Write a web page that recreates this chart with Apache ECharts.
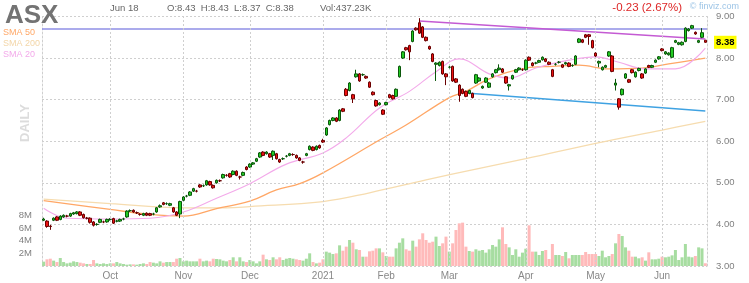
<!DOCTYPE html>
<html><head><meta charset="utf-8">
<script src="https://cdn.jsdelivr.net/npm/echarts@6/dist/echarts.min.js"></script>
<style>html,body{margin:0;padding:0;background:#fff}#c{width:749px;height:283px}</style>
</head><body><div id="c"></div>
<script>
const ticker = 'ASX';
const firstDate = '2020-09-02';
const lastDate = '2021-06-18';
const holidays = ['2020-09-07','2020-11-26','2020-12-25','2021-01-01','2021-01-18','2021-02-15','2021-04-02','2021-05-31'];

const opens = [
4.10,4.08,3.96,4.10,4.18,4.12,4.18,4.20,4.20,4.25,
4.26,4.30,4.24,4.15,4.15,4.06,4.00,4.05,4.06,4.06,
4.12,4.14,4.08,4.08,4.13,4.18,4.33,4.34,4.28,4.24,
4.22,4.27,4.26,4.25,4.30,4.42,4.52,4.50,4.46,4.40,
4.30,4.25,4.58,4.68,4.70,4.80,4.80,4.95,4.93,4.95,
5.03,4.94,5.00,5.05,5.12,5.18,5.22,5.20,5.28,5.14,
5.18,5.38,5.38,5.45,5.52,5.62,5.74,5.70,5.70,5.66,
5.70,5.56,5.58,5.64,5.66,5.68,5.66,5.60,5.50,5.66,
5.80,5.86,5.80,5.90,6.02,6.15,6.40,6.50,6.56,6.50,
6.78,7.25,7.22,7.12,7.55,7.62,7.60,7.56,7.42,7.18,
6.98,6.88,6.75,6.88,7.12,7.10,7.08,7.55,8.00,8.25,
8.30,8.40,8.72,8.85,8.75,8.50,8.28,8.10,7.85,7.82,
7.92,7.62,7.78,7.80,7.50,7.35,7.25,7.20,7.15,7.15,
7.40,7.45,7.28,7.42,7.30,7.55,7.65,7.72,7.74,7.55,
7.33,7.50,7.66,7.72,7.72,7.72,8.02,7.88,7.88,7.90,
7.96,7.98,7.90,7.72,7.85,7.90,7.84,7.86,7.88,7.82,
7.85,8.38,8.44,8.56,8.56,8.42,8.12,7.88,7.72,7.78,
8.05,8.05,7.35,7.02,7.12,7.52,7.48,7.72,7.55,7.70,
7.62,7.64,7.82,7.78,7.90,7.98,8.22,8.10,8.08,8.02,
8.38,8.33,8.32,8.40,8.66,8.72,8.62,8.38,8.50,8.43];
const closes = [
4.13,3.95,3.95,4.15,4.10,4.20,4.22,4.20,4.26,4.28,
4.30,4.22,4.16,4.15,4.05,3.98,4.00,4.12,4.06,4.12,
4.12,4.03,4.08,4.12,4.13,4.32,4.33,4.30,4.28,4.24,
4.26,4.22,4.22,4.25,4.40,4.45,4.48,4.50,4.50,4.30,
4.22,4.55,4.66,4.68,4.78,4.86,4.80,4.90,4.93,5.05,
4.95,4.88,5.06,5.05,5.20,5.18,5.14,5.28,5.18,5.14,
5.25,5.32,5.45,5.48,5.58,5.72,5.66,5.74,5.62,5.76,
5.58,5.50,5.58,5.64,5.70,5.68,5.60,5.54,5.50,5.70,
5.88,5.78,5.88,5.84,5.98,6.32,6.50,6.56,6.48,6.75,
6.72,7.10,7.40,7.02,7.62,7.45,7.60,7.52,7.30,7.12,
6.85,6.92,6.65,6.93,7.05,7.02,7.25,7.80,8.15,8.20,
8.15,8.65,8.68,8.60,8.50,8.42,8.22,7.92,7.88,7.90,
7.62,7.55,7.78,7.45,7.42,7.10,7.15,7.08,7.22,7.05,
7.60,7.52,7.32,7.52,7.40,7.62,7.72,7.76,7.66,7.40,
7.36,7.58,7.72,7.76,7.72,7.95,7.95,7.82,7.88,7.94,
8.02,7.92,7.85,7.56,7.85,7.90,7.78,7.89,7.80,7.82,
8.05,8.46,8.38,8.50,8.52,8.25,8.05,7.92,7.78,7.82,
8.15,7.68,7.40,6.82,7.25,7.62,7.42,7.65,7.66,7.75,
7.52,7.74,7.78,7.82,7.95,8.03,8.18,8.15,8.12,8.25,
8.42,8.37,8.38,8.72,8.70,8.78,8.58,8.42,8.61,8.38];
const highs = [
4.16,4.10,3.99,4.17,4.20,4.22,4.24,4.23,4.28,4.30,
4.32,4.32,4.26,4.18,4.17,4.08,4.03,4.14,4.09,4.14,
4.15,4.16,4.11,4.14,4.16,4.34,4.36,4.36,4.31,4.27,
4.28,4.29,4.28,4.28,4.42,4.48,4.54,4.53,4.52,4.42,
4.32,4.57,4.68,4.71,4.80,4.88,4.83,4.97,4.96,5.07,
5.05,4.96,5.08,5.08,5.22,5.21,5.24,5.30,5.30,5.17,
5.27,5.40,5.47,5.50,5.60,5.74,5.76,5.76,5.72,5.78,
5.72,5.58,5.61,5.67,5.72,5.71,5.68,5.62,5.53,5.72,
5.90,5.88,5.90,5.92,6.06,6.34,6.52,6.58,6.58,6.77,
6.80,7.28,7.42,7.14,7.72,7.64,7.63,7.58,7.44,7.20,
7.00,6.94,6.77,6.95,7.14,7.12,7.27,7.82,8.17,8.27,
8.32,8.67,8.74,8.96,8.77,8.52,8.30,8.12,7.90,7.92,
7.94,7.64,7.81,7.82,7.52,7.37,7.27,7.22,7.24,7.17,
7.62,7.54,7.34,7.54,7.42,7.64,7.74,7.85,7.76,7.57,
7.38,7.60,7.74,7.78,7.75,7.97,8.04,7.90,7.91,7.96,
8.04,8.00,7.92,7.74,7.88,7.93,7.86,7.91,7.90,7.85,
8.07,8.48,8.46,8.58,8.58,8.44,8.14,7.94,7.80,7.84,
8.17,8.07,7.50,7.04,7.27,7.64,7.50,7.74,7.68,7.77,
7.64,7.76,7.84,7.84,7.97,8.05,8.24,8.17,8.14,8.27,
8.44,8.39,8.40,8.74,8.72,8.80,8.64,8.44,8.72,8.43];
const lows = [
4.08,3.92,3.87,4.08,4.08,4.10,4.16,4.17,4.18,4.23,
4.24,4.20,4.14,4.12,4.02,3.95,3.97,4.03,4.03,4.04,
4.09,4.01,4.05,4.06,4.10,4.16,4.30,4.28,4.25,4.21,
4.20,4.20,4.20,4.22,4.28,4.40,4.46,4.47,4.44,4.28,
4.20,4.15,4.56,4.65,4.68,4.78,4.77,4.88,4.90,4.93,
4.93,4.86,4.98,5.02,5.10,5.15,5.12,5.18,5.16,5.08,
5.16,5.30,5.36,5.43,5.50,5.60,5.64,5.68,5.60,5.55,
5.56,5.48,5.55,5.61,5.64,5.65,5.58,5.52,5.46,5.64,
5.78,5.76,5.78,5.82,5.96,6.13,6.38,6.48,6.46,6.48,
6.70,7.08,7.20,6.92,7.53,7.43,7.57,7.50,7.28,7.10,
6.83,6.86,6.63,6.86,7.03,7.00,7.06,7.53,7.98,8.18,
7.95,8.38,8.66,8.58,8.48,8.40,8.20,7.90,7.45,7.80,
7.60,7.35,7.75,7.43,7.40,6.95,7.13,7.06,7.13,7.03,
7.38,7.43,7.26,7.40,7.28,7.53,7.63,7.70,7.64,7.38,
7.22,7.48,7.64,7.70,7.69,7.70,7.93,7.80,7.85,7.88,
7.94,7.90,7.83,7.54,7.82,7.87,7.76,7.84,7.78,7.79,
7.83,8.36,8.36,8.48,8.32,8.23,8.03,7.78,7.70,7.76,
8.03,7.66,7.22,6.76,7.10,7.50,7.40,7.63,7.53,7.68,
7.50,7.62,7.76,7.76,7.88,7.96,8.16,8.08,8.06,8.00,
8.36,8.31,8.30,8.38,8.64,8.70,8.56,8.36,8.48,8.37];
// volume in millions of shares
const volumesM = [
0.69,1.06,1.16,0.85,0.63,1.27,0.63,0.42,0.53,0.74,
0.63,0.53,0.42,0.32,0.32,0.95,0.42,0.32,0.42,0.32,
0.42,0.42,0.63,0.42,0.32,0.21,0.26,0.26,0.21,0.32,
0.42,0.32,0.63,0.53,0.42,0.74,0.53,0.63,0.63,0.63,
1.16,1.27,0.74,0.85,0.74,0.74,0.74,1.16,0.74,0.85,
0.74,1.16,1.11,1.06,0.85,0.74,0.95,1.38,0.74,1.38,
0.74,0.63,0.95,0.74,0.42,0.74,1.80,1.06,0.95,1.38,
1.06,1.38,0.95,1.16,1.27,1.16,1.06,0.95,0.85,1.16,
2.01,0.63,0.42,0.53,1.06,2.28,2.12,1.90,2.01,3.28,
2.43,3.07,4.13,3.70,2.65,2.54,1.48,1.48,2.33,
2.43,2.80,2.80,2.17,1.59,1.48,1.48,2.80,3.70,4.39,
2.65,2.43,4.02,3.07,4.23,5.19,4.13,3.70,3.86,4.66,
3.17,3.60,4.66,2.28,3.60,5.71,6.77,6.88,3.07,2.38,
2.28,2.65,2.43,2.54,2.12,2.65,3.33,3.07,4.23,6.14,
3.49,2.96,1.75,2.65,1.48,2.12,2.75,6.46,2.28,2.28,
1.75,2.38,2.54,1.11,3.49,1.75,1.75,1.59,2.22,1.22,
1.75,1.75,1.75,1.75,2.22,1.90,1.90,1.90,1.59,2.43,
1.38,1.59,1.90,3.60,5.08,4.76,2.96,2.43,1.48,1.48,
1.22,1.38,0.85,2.17,1.06,1.06,1.16,1.48,1.38,1.48,
1.69,2.54,0.95,1.38,3.49,1.48,1.38,1.59,2.96,2.80,
0.43723];

// moving averages: [trading-day index, price]
const sma50 = [[0,4.57],[20,4.36],[32,4.24],[42,4.20],[52,4.38],[62,4.56],[70,4.83],[77,4.98],[84,5.24],[101,6.03],[109,6.39],[122,7.05],[127,7.20],[134,7.50],[145,7.76],[153,7.80],[161,7.83],[170,7.74],[180,7.76],[188,7.86],[199,8.00]];
const sma200 = [[0,4.61],[20,4.50],[42,4.40],[55,4.40],[62,4.43],[84,4.55],[98,4.76],[115,5.07],[130,5.33],[145,5.58],[166,5.95],[186,6.27],[199,6.48]];
const sma20 = [[0,4.39],[7,4.15],[20,4.13],[32,4.15],[42,4.30],[52,4.63],[62,4.98],[73,5.45],[84,5.72],[91,6.08],[101,6.80],[110,7.20],[118,7.67],[125,7.98],[134,7.62],[140,7.52],[148,7.76],[158,7.95],[166,8.03],[173,7.90],[181,7.74],[190,7.74],[199,8.24]];

const resistanceLevel = 8.71;
const upperTrend = [[113, 8.89], [199, 8.46]];
const lowerTrend = [[127, 7.16], [199, 6.73]];
const priceTicks = [3, 4, 5, 6, 7, 8, 9];
const volumeTickLabels = [2, 4, 6, 8];
const monthNames = ['Jan','Feb','Mar','Apr','May','Jun','Jul','Aug','Sep','Oct','Nov','Dec'];

// trading calendar
const dates = [];
(function(){
  let d = new Date(firstDate + 'T00:00:00Z');
  const end = new Date(lastDate + 'T00:00:00Z');
  while (d <= end) {
    const s = d.toISOString().slice(0,10);
    const wd = d.getUTCDay();
    if (wd !== 0 && wd !== 6 && holidays.indexOf(s) < 0) dates.push(s);
    d = new Date(d.getTime() + 86400000);
  }
})();
const monthStarts = [];
for (let i = 1; i < dates.length; i++) if (dates[i].slice(5,7) !== dates[i-1].slice(5,7)) monthStarts.push(i);

const candleData = dates.map((d,i) => [opens[i], closes[i], lows[i], highs[i]]);
const volData = volumesM.map((v,i) => ({value: v, itemStyle: {color: closes[i] >= opens[i] ? '#a7dda1' : '#ffbaba'}}));

const n = dates.length - 1;
const lastClose = closes[n], prevClose = closes[n-1];
const chg = lastClose - prevClose;
const dt = new Date(dates[n] + 'T00:00:00Z');
const dateText = monthNames[dt.getUTCMonth()] + ' ' + dt.getUTCDate();
const FONT = "'Liberation Sans', Arial, sans-serif";
const dash = [2, 2];

const chart = echarts.init(document.getElementById('c'), null, {renderer: 'canvas'});
function txt(x, y, text, font, fill, align, extra) {
  return Object.assign({type: 'text', x: x, y: y, silent: true, z: 100,
    style: {text: text, font: font, fill: fill, align: align || 'left', verticalAlign: 'middle'}}, extra || {});
}
const ohlcText = 'O:' + opens[n].toFixed(2) + '  H:' + highs[n].toFixed(2) + '  L:' + lows[n].toFixed(2) + '  C:' + closes[n].toFixed(2);
chart.setOption({
  animation: false,
  backgroundColor: '#fff',
  grid: {left: 42, right: 42, top: 16.5, bottom: 17, containLabel: false},
  xAxis: {
    type: 'category', data: dates, boundaryGap: true,
    axisLine: {show: false}, axisTick: {show: false}, splitLine: {show: false},
    axisLabel: {
      interval: (idx) => monthStarts.indexOf(idx) >= 0,
      formatter: (v) => { const m = parseInt(v.slice(5,7),10) - 1; return m === 0 ? v.slice(0,4) : monthNames[m]; },
      color: '#888', fontSize: 10, fontFamily: FONT, margin: 5
    }
  },
  yAxis: [{
    type: 'value', position: 'right', min: priceTicks[0], max: priceTicks[priceTicks.length-1], interval: 1,
    axisLine: {show: true, lineStyle: {color: '#cfcfcf', type: dash}}, axisTick: {show: false},
    splitLine: {show: true, lineStyle: {color: '#cfcfcf', type: dash}},
    axisLabel: {formatter: (v) => v.toFixed(2), color: '#808080', fontSize: 9.5, fontFamily: FONT, margin: 9}
  }, {
    type: 'value', position: 'left', min: 0, max: 39.6, interval: 2,
    axisLine: {show: true, lineStyle: {color: '#cfcfcf', type: dash}}, axisTick: {show: false},
    splitLine: {show: false},
    axisLabel: {formatter: (v) => volumeTickLabels.indexOf(v) >= 0 ? v + 'M' : '', color: '#808080', fontSize: 9.5, fontFamily: FONT, margin: 10}
  }],
  series: [{
    type: 'line', data: [], z: 1, silent: true,
    markLine: {silent: true, symbol: ['none','none'], label: {show: false},
      lineStyle: {color: '#cfcfcf', type: dash, width: 1},
      data: monthStarts.map(i => ({xAxis: dates[i]}))}
  }, {
    name: 'Volume', type: 'bar', yAxisIndex: 1, data: volData, barWidth: 3, z: 2, silent: true
  }, {
    name: 'SMA 200', type: 'line', data: sma200, smooth: 0.4, symbol: 'none', z: 3,
    lineStyle: {color: '#f6dcaf', width: 1.3}
  }, {
    name: 'SMA 50', type: 'line', data: sma50, smooth: 0.4, symbol: 'none', z: 3,
    lineStyle: {color: '#ffa766', width: 1.3}
  }, {
    name: 'SMA 20', type: 'line', data: sma20, smooth: 0.4, symbol: 'none', z: 3,
    lineStyle: {color: '#f3aaea', width: 1.1}
  }, {
    name: ticker, type: 'candlestick', data: candleData, barWidth: 3, z: 5,
    itemStyle: {color: '#22cc22', borderColor: '#0b560b', color0: '#ee1111', borderColor0: '#6a0000', borderWidth: 1},
    markLine: {
      silent: true, symbol: ['none','none'], z: 4,
      data: [
        {yAxis: resistanceLevel, lineStyle: {color: '#8f8fe6', width: 1.5, type: 'solid'}, label: {show: false}},
        [{coord: [dates[upperTrend[0][0]], upperTrend[0][1]]}, {coord: [dates[upperTrend[1][0]], upperTrend[1][1]], lineStyle: {color: '#c45ad3', width: 1.5, type: 'solid'}, label: {show: false}}],
        [{coord: [dates[lowerTrend[0][0]], lowerTrend[0][1]]}, {coord: [dates[lowerTrend[1][0]], lowerTrend[1][1]], lineStyle: {color: '#3fa2e2', width: 1.5, type: 'solid'}, label: {show: false}}],
        {yAxis: lastClose, lineStyle: {color: 'rgba(0,0,0,0)', width: 0},
         label: {show: true, position: 'end', formatter: lastClose.toFixed(2), backgroundColor: '#ffff00', color: '#000',
                 fontWeight: 'bold', fontSize: 9.5, fontFamily: FONT, padding: [2, 2, 1, 2], distance: 7}}
      ]
    }
  }],
  graphic: [
    txt(5, 16, ticker, 'bold 26px ' + FONT, '#737373'),
    txt(110, 8, dateText, '9.5px ' + FONT, '#666'),
    txt(167, 8, ohlcText, '9.5px ' + FONT, '#666'),
    txt(320, 8, 'Vol:' + (volumesM[n] * 1000).toFixed(2) + 'K', '9.5px ' + FONT, '#666'),
    txt(682, 8, (chg >= 0 ? '+' : '') + chg.toFixed(2) + ' (' + Math.abs(chg / prevClose * 100).toFixed(2) + '%)', '11.5px ' + FONT, chg >= 0 ? '#22aa22' : '#dd2626', 'right'),
    txt(739, 7, '\u00a9 finviz.com', '9px ' + FONT, '#9cc4e6', 'right'),
    txt(3, 33, 'SMA 50', '9px ' + FONT, '#ffa766'),
    txt(3, 44, 'SMA 200', '9px ' + FONT, '#f3d6a8'),
    txt(3, 55, 'SMA 20', '9px ' + FONT, '#f3aaea'),
    txt(25, 123, 'DAILY', 'bold 13px ' + FONT, '#dcdcdc', 'center', {rotation: Math.PI / 2})
  ]
});
</script>
</body></html>
